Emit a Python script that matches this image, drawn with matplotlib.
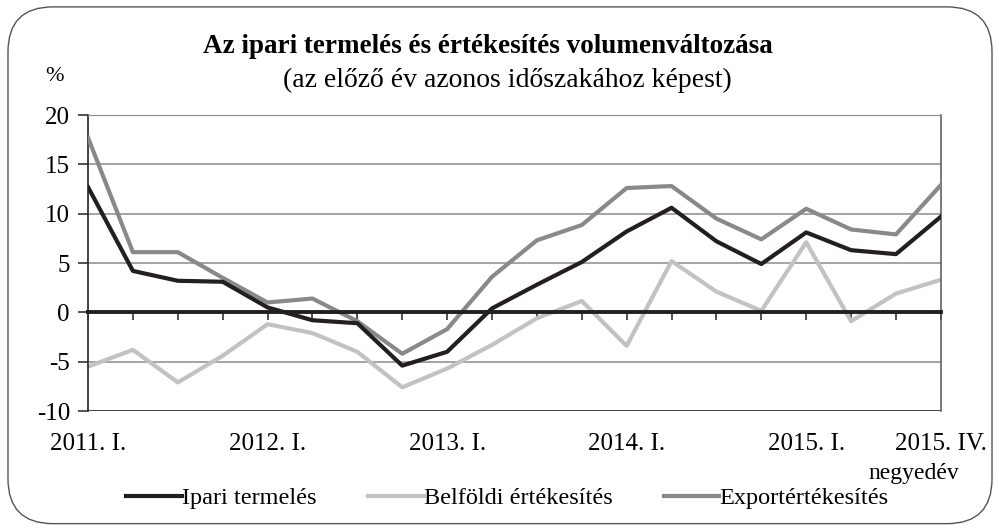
import numpy as np
import matplotlib
matplotlib.use('Agg')
import matplotlib.pyplot as plt
from matplotlib.patches import FancyBboxPatch

plt.rcParams['font.family'] = ['Liberation Serif', 'DejaVu Serif']
plt.rcParams['axes.unicode_minus'] = False

# quarters 2011 Q1 .. 2015 Q4
quarters = np.arange(20)
tick_pos = [0, 4, 8, 12, 16, 19]
tick_labels = ['2011. I.', '2012. I.', '2013. I.', '2014. I.', '2015. I.', '2015. IV.']

ipari = [12.7, 4.2, 3.2, 3.1, 0.5, -0.8, -1.1, -5.4, -4.0, 0.4,
         2.8, 5.1, 8.2, 10.6, 7.2, 4.9, 8.1, 6.3, 5.9, 9.7]
belfoldi = [-5.5, -3.8, -7.1, -4.4, -1.2, -2.1, -4.0, -7.6, -5.7, -3.3,
            -0.6, 1.15, -3.4, 5.2, 2.1, 0.15, 7.1, -0.9, 1.9, 3.3]
export = [17.7, 6.1, 6.1, 3.5, 1.0, 1.4, -0.9, -4.2, -1.7, 3.6,
          7.3, 8.85, 12.6, 12.8, 9.5, 7.4, 10.5, 8.4, 7.9, 12.9]

c_black = '#231f20'
c_light = '#c2c2c2'
c_mid = '#898989'

fig = plt.figure(figsize=(9.99, 5.30), dpi=100)
ax = fig.add_axes([0.0881, 0.2245, 0.8537, 0.5585])

# rounded frame round the whole figure
frame = FancyBboxPatch((0.008, 0.012), 0.985, 0.975,
                       boxstyle='round,pad=0,rounding_size=0.045',
                       transform=fig.transFigure, fill=False,
                       edgecolor='#555555', linewidth=1.0,
                       mutation_aspect=999 / 530)
fig.patches.append(frame)

for y in [-5, 5, 10, 15, 20]:
    ax.axhline(y, color='#8c8c8c', lw=1.1, zorder=1)
ax.axhline(-10, color='#333333', lw=1.3, zorder=1)

l1, = ax.plot(quarters, ipari, color=c_black, lw=3.0, zorder=4)
l2, = ax.plot(quarters, belfoldi, color=c_light, lw=3.0, zorder=2)
l3, = ax.plot(quarters, export, color=c_mid, lw=3.0, zorder=3)

ax.set_xlim(0, 19)
ax.set_ylim(-10, 20)
ax.set_yticks(np.arange(-10, 21, 5))
ax.tick_params(axis='y', labelsize=18, length=7, width=1.2, pad=6, color='#333333')

# category axis crosses at zero
ax.spines['bottom'].set_position(('data', 0))
ax.spines['bottom'].set_linewidth(2.8)
ax.spines['bottom'].set_color(c_black)
ax.spines['bottom'].set_zorder(5)
ax.set_xticks(quarters)
ax.tick_params(axis='x', direction='out', length=6, width=1.2, labelbottom=False, color='#333333')
ax.spines['left'].set_color('#333333')
ax.spines['left'].set_linewidth(1.3)
ax.spines['top'].set_color('#8c8c8c')
ax.spines['right'].set_color('#555555')
ax.spines['right'].set_linewidth(1.1)

trans = ax.get_xaxis_transform()
for p, lab in zip(tick_pos, tick_labels):
    ax.text(p, -0.075, lab, transform=trans, ha='center', va='top', fontsize=18)
ax.text(19.4, -0.175, 'negyedév', transform=trans, ha='right', va='top', fontsize=17)

fig.text(0.488, 0.913, 'Az ipari termelés és értékesítés volumenváltozása',
         ha='center', va='center', fontsize=19.5, fontweight='bold')
fig.text(0.508, 0.848, '(az előző év azonos időszakához képest)',
         ha='center', va='center', fontsize=20)
fig.text(0.055, 0.855, '%', ha='center', va='center', fontsize=16)

fig.legend([l1, l2, l3], ['Ipari termelés', 'Belföldi értékesítés', 'Exportértékesítés'],
           loc='center', bbox_to_anchor=(0.508, 0.06), ncol=3, frameon=False,
           fontsize=17.5, handlelength=2.3, handletextpad=0.0, columnspacing=2.1)

fig.savefig('out.png', dpi=100)
